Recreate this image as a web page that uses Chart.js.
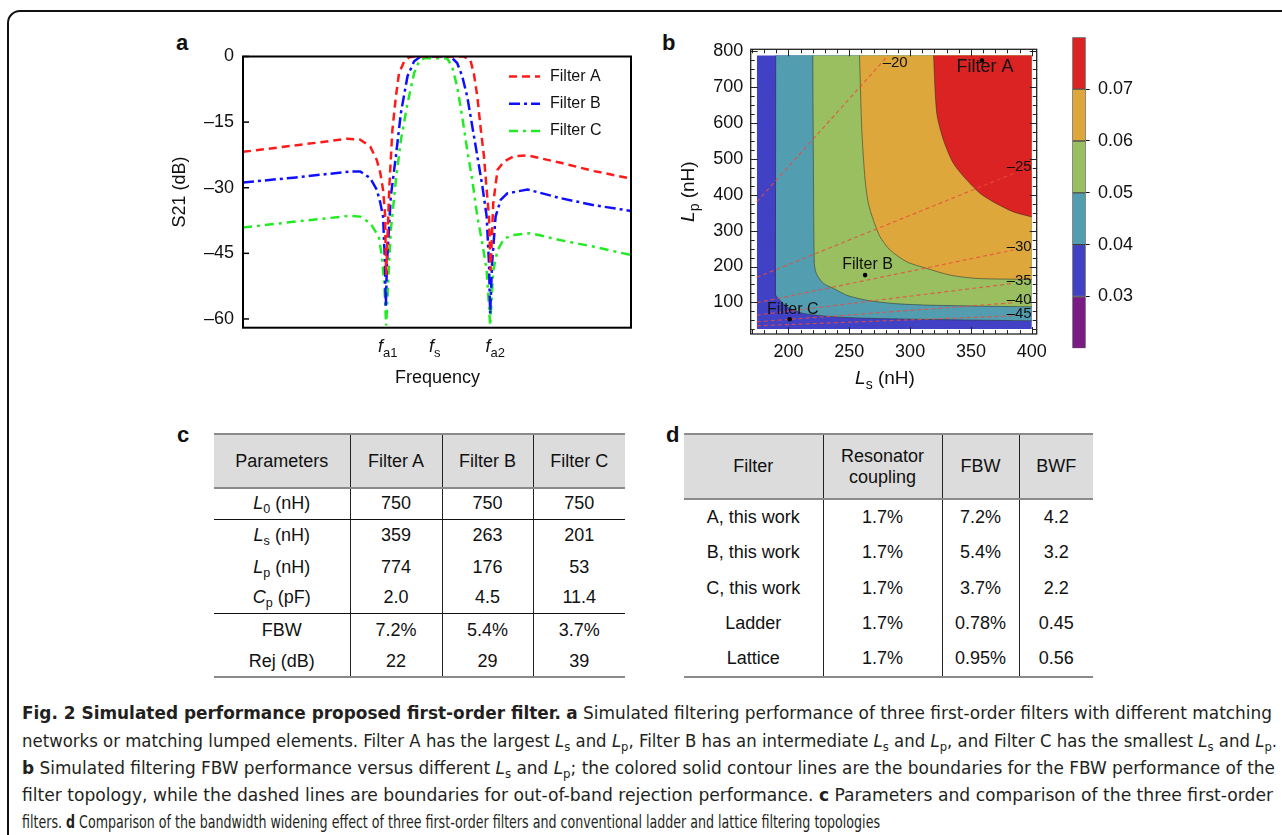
<!DOCTYPE html>
<html>
<head>
<meta charset="utf-8">
<script src="https://cdn.jsdelivr.net/npm/chart.js@4.4.0/dist/chart.umd.min.js"></script>
<style>
body { margin: 0; width: 1282px; height: 835px; overflow: hidden; background: #fff; position: relative; font-family: "Liberation Sans", Arial, sans-serif; color: #111; }
.outer { position: absolute; left: 7px; top: 10px; width: 1320px; height: 880px; border: 2px solid #111; border-radius: 13px; }
.pl { position: absolute; font-weight: bold; font-size: 22px; line-height: 26px; }
canvas { position: absolute; }
table.t { position: absolute; border-collapse: collapse; table-layout: fixed; font-size: 18px; color: #111; }
table.t td { text-align: center; vertical-align: middle; padding: 0; border-left: 1px solid #222; line-height: 21px; white-space: nowrap; }
table.t td:first-child { border-left: none; }
table.t tr.hd td { background: #dcdcdc; border-top: 2.5px solid #8a8a8a; border-bottom: 2.5px solid #8a8a8a; }
table.t tr.sep td { border-bottom: 1.3px solid #111; }
table.t tr.last td { border-bottom: 2.5px solid #8a8a8a; }
table.t sub, .cap sub { font-size: 0.7em; vertical-align: -0.3em; line-height: 0; }
.cap { position: absolute; left: 22px; white-space: nowrap; transform-origin: 0 0; font-family: "DejaVu Sans Condensed", "Open Sans", "Liberation Sans", sans-serif; font-stretch: condensed; font-size: 18.5px; line-height: 27px; color: #231f20; }
</style>
</head>
<body>
<div class="outer"></div>

<div class="pl" style="left:176px;top:30px">a</div>
<div class="pl" style="left:662px;top:30px">b</div>
<div class="pl" style="left:177px;top:422px">c</div>
<div class="pl" style="left:666px;top:422px">d</div>

<canvas id="chartA" width="495" height="360" style="left:150px;top:40px"></canvas>
<canvas id="chartB" width="380" height="370" style="left:670px;top:30px"></canvas>
<canvas id="chartBar" width="100" height="340" style="left:1060px;top:25px"></canvas>

<table class="t" style="left:214px;top:433px;width:411px">
  <colgroup><col style="width:136px"><col style="width:92px"><col style="width:91px"><col style="width:92px"></colgroup>
  <tr class="hd" style="height:54px"><td>Parameters</td><td>Filter A</td><td>Filter B</td><td>Filter C</td></tr>
  <tr class="sep" style="height:31px"><td><i>L</i><sub>0</sub> (nH)</td><td>750</td><td>750</td><td>750</td></tr>
  <tr style="height:32px"><td><i>L</i><sub>s</sub> (nH)</td><td>359</td><td>263</td><td>201</td></tr>
  <tr style="height:32px"><td><i>L</i><sub>p</sub> (nH)</td><td>774</td><td>176</td><td>53</td></tr>
  <tr class="sep" style="height:30px"><td><i>C</i><sub>p</sub> (pF)</td><td>2.0</td><td>4.5</td><td>11.4</td></tr>
  <tr style="height:34px"><td>FBW</td><td>7.2%</td><td>5.4%</td><td>3.7%</td></tr>
  <tr class="last" style="height:30px"><td>Rej (dB)</td><td>22</td><td>29</td><td>39</td></tr>
</table>

<table class="t" style="left:684px;top:433px;width:409px">
  <colgroup><col style="width:139px"><col style="width:119px"><col style="width:77px"><col style="width:74px"></colgroup>
  <tr class="hd" style="height:65px"><td>Filter</td><td>Resonator<br>coupling</td><td>FBW</td><td>BWF</td></tr>
  <tr style="height:36px"><td>A, this work</td><td>1.7%</td><td>7.2%</td><td>4.2</td></tr>
  <tr style="height:35px"><td>B, this work</td><td>1.7%</td><td>5.4%</td><td>3.2</td></tr>
  <tr style="height:36px"><td>C, this work</td><td>1.7%</td><td>3.7%</td><td>2.2</td></tr>
  <tr style="height:35px"><td>Ladder</td><td>1.7%</td><td>0.78%</td><td>0.45</td></tr>
  <tr class="last" style="height:36px"><td>Lattice</td><td>1.7%</td><td>0.95%</td><td>0.56</td></tr>
</table>

<div class="cap" data-w="1250" style="top:699px"><b>Fig. 2 Simulated performance proposed first-order filter.</b> <b>a</b> Simulated filtering performance of three first-order filters with different matching</div>
<div class="cap" data-w="1255" style="top:727px">networks or matching lumped elements. Filter A has the largest <i>L</i><sub>s</sub> and <i>L</i><sub>p</sub>, Filter B has an intermediate <i>L</i><sub>s</sub> and <i>L</i><sub>p</sub>, and Filter C has the smallest <i>L</i><sub>s</sub> and <i>L</i><sub>p</sub>.</div>
<div class="cap" data-w="1253" style="top:754px"><b>b</b> Simulated filtering FBW performance versus different <i>L</i><sub>s</sub> and <i>L</i><sub>p</sub>; the colored solid contour lines are the boundaries for the FBW performance of the</div>
<div class="cap" data-w="1251" style="top:781px">filter topology, while the dashed lines are boundaries for out-of-band rejection performance. <b>c</b> Parameters and comparison of the three first-order</div>
<div class="cap" data-w="858" style="top:808px">filters. <b>d</b> Comparison of the bandwidth widening effect of three first-order filters and conventional ladder and lattice filtering topologies</div>

<script>
// ---------- panel a: S21 vs frequency ----------
const seriesNames = ['Filter A', 'Filter B', 'Filter C'];
const freqTickVals = [37.3, 49.4, 65.0];
const freqTickSubs = ['a1', 's', 'a2'];
const s21Ticks = [0, -15, -30, -45, -60];

const freqA = [0, 10, 20, 26.8, 30.2, 32.8, 34.5, 35.4, 36.1, 36.6, 36.9, 37.3, 37.7, 38.5, 39.4, 40.2, 41.5, 42.8, 44.1, 50, 56.9, 58.6, 59.5, 60.4, 61.2, 62.1, 62.8, 63.4, 63.8, 64.5, 65.6, 67.3, 69.8, 73.3, 81.9, 90.5, 100];
const s21A  = [-21.8, -20.7, -19.6, -18.8, -19, -20.6, -23.7, -26.7, -30.5, -36, -50, -40, -30, -16.8, -9.2, -3.9, -1.2, -0.2, 0, 0, 0, -0.8, -3.9, -9.2, -16, -22.8, -30.5, -36.6, -49, -33.5, -25.9, -24, -22.8, -22.6, -24.3, -26.2, -27.9];

const freqB = [0, 13, 27.7, 30.2, 32.8, 34.5, 35.4, 36.1, 36.6, 36.8, 37.1, 38.1, 39.4, 40.7, 42.4, 44.1, 45.8, 50, 53.5, 55.2, 56.5, 57.8, 59.1, 60.4, 61.7, 62.8, 63.4, 63.7, 64.2, 65.1, 66.4, 68.1, 73.3, 81.9, 90.5, 100];
const s21B  = [-28.8, -27.7, -26.3, -26.3, -27.8, -30.5, -33.5, -36.6, -47.3, -57.2, -47.3, -32, -22.8, -12.9, -4.5, -1.1, 0, 0, 0, -1.5, -4.5, -9.2, -16, -22.8, -29.7, -36.6, -47.3, -58.8, -47.3, -36.6, -32.8, -31.3, -30.4, -32.4, -34, -35.3];

const freqC = [0, 13, 27.7, 30.2, 32.8, 35, 35.8, 36.4, 36.9, 37.4, 38.1, 39.4, 40.7, 42.4, 44.1, 45.4, 46.7, 50, 52.6, 53.9, 55.2, 56.5, 57.8, 59.1, 60.4, 61.7, 62.8, 63.7, 64.5, 65.6, 67.3, 69.8, 74.1, 81.9, 90.5, 100];
const s21C  = [-39.1, -37.8, -36.4, -36.6, -38.1, -41.2, -45.8, -51.9, -61.5, -51.9, -39.7, -28.3, -19.1, -10.7, -3.8, -1.1, -0.4, -0.4, -0.4, -2.3, -6.9, -13.8, -21.4, -28.3, -36.6, -42.8, -48.9, -61.5, -48.9, -44.3, -41.6, -40.8, -40.4, -42, -43.5, -45.4];

// ---------- panel b: FBW contour map ----------
const lsTicks = [200, 250, 300, 350, 400];
const lpTicks = [100, 200, 300, 400, 500, 600, 700, 800];
const lpTop = 788;

const bgLs = [174, 400];
const bgLp = [25.6, 25.6];
const c004Ls = [189.6, 189.4, 189.2, 189.6, 191.8, 198.7, 212.3, 245.2, 313.7, 400];
const c004Lp = [788, 400, 134, 120, 111, 87.7, 69.4, 58.2, 52.6, 48.8];
const c005Ls = [220, 220.5, 221.3, 223, 228.8, 237, 248, 260, 272.6, 290, 313.7, 350, 400];
const c005Lp = [788, 500, 208.6, 180, 152.9, 139, 120, 109, 101.7, 96, 92.5, 90, 87.7];
const c006Ls = [258.4, 260.3, 263, 265.7, 269.8, 275.3, 283.6, 297.3, 313.7, 332.9, 354.8, 400];
const c006Lp = [788, 580, 440.7, 375.8, 329, 282.7, 245.7, 213, 194.7, 176, 166.8, 164];
const c007Ls = [319.2, 321.9, 327.4, 335.6, 346.6, 357.5, 368.4, 384.9, 400];
const c007Lp = [788, 626.5, 552, 487, 440.7, 403.6, 380, 352, 338];

// rejection contours (dashed), start and end points
const rejLabels = ['–20', '–25', '–30', '–35', '–40', '–45'];
const rejLs = [[174, 282], [174, 385], [174, 385], [174, 385], [174, 385], [174, 385]];
const rejLp = [[380, 788], [169.6, 459], [99, 246], [64.6, 153], [46, 99], [34.8, 62.7]];
const rejLabelLs = [287.7, 389.6, 389.6, 389.6, 389.6, 389.6];
const rejLabelLp = [768.5, 477.7, 254.9, 160, 108, 67.4];

const filterLs = [359, 263, 201];
const filterLp = [774, 176, 53];
const filterLabelLs = [361.6, 265, 203.6];
const filterLabelLp = [756, 204, 80.5];

// ---------- colour bar ----------
const fbwLevels = [0.02, 0.03, 0.04, 0.05, 0.06, 0.07, 0.08];
const fbwTicks = [0.03, 0.04, 0.05, 0.06, 0.07];
const fbwColors = ['#7a1b86', '#4141c6', '#539db1', '#99bf61', '#dea73c', '#db2323'];

const FONT = '"Liberation Sans", Arial, sans-serif';
const pts = (xs, ys) => xs.map((x, i) => ({ x: x, y: ys[i] }));

// keep chart areas exactly where the figure has them
function noLabelPad(s) {
    s.paddingTop = 0; s.paddingBottom = 0; s.paddingLeft = 0; s.paddingRight = 0;
}

function drawRich(ctx, parts, x, y, size) {
    const fontFor = p => (p.italic ? 'italic ' : '') + (p.sub ? Math.round(size * 0.72) : size) + 'px ' + FONT;
    const widths = parts.map(p => { ctx.font = fontFor(p); return ctx.measureText(p.t).width; });
    let cx = x - widths.reduce((a, b) => a + b, 0) / 2;
    ctx.textAlign = 'left';
    ctx.textBaseline = 'alphabetic';
    parts.forEach((p, i) => {
        ctx.font = fontFor(p);
        ctx.fillText(p.t, cx, y + (p.sub ? size * 0.28 : 0));
        cx += widths[i];
    });
}

const lineStyles = [
    { color: 'rgb(255,25,25)', dash: [8, 5] },
    { color: 'rgb(15,15,255)', dash: [11, 4, 3, 4] },
    { color: 'rgb(35,235,35)', dash: [9, 5, 3, 5] }
];

const panelAOverlay = {
    id: 'panelAOverlay',
    afterDraw(chart) {
        const { ctx, chartArea: ca, scales } = chart;
        ctx.save();
        ctx.strokeStyle = '#000';
        ctx.lineWidth = 2;
        ctx.strokeRect(ca.left, ca.top, ca.right - ca.left, ca.bottom - ca.top);
        ctx.lineWidth = 1.5;
        s21Ticks.forEach(v => {
            const y = scales.y.getPixelForValue(v);
            ctx.beginPath(); ctx.moveTo(ca.left, y); ctx.lineTo(ca.left + 6, y); ctx.stroke();
        });
        ctx.fillStyle = '#111';
        freqTickVals.forEach((v, i) => {
            drawRich(ctx, [{ t: 'f', italic: true }, { t: freqTickSubs[i], sub: true }], scales.x.getPixelForValue(v), ca.bottom + 24, 18);
        });
        drawRich(ctx, [{ t: 'Frequency' }], (ca.left + ca.right) / 2 + 0.5, ca.bottom + 55, 18);
        ctx.save();
        ctx.translate(30.5, (ca.top + ca.bottom) / 2);
        ctx.rotate(-Math.PI / 2);
        ctx.font = '18px ' + FONT;
        ctx.textAlign = 'center';
        ctx.textBaseline = 'middle';
        ctx.fillText('S21 (dB)', 0, 0);
        ctx.restore();
        // legend
        seriesNames.forEach((name, i) => {
            const y = ca.top + 20 + i * 27.2;
            ctx.strokeStyle = lineStyles[i].color;
            ctx.lineWidth = 2.5;
            ctx.setLineDash(lineStyles[i].dash);
            ctx.beginPath(); ctx.moveTo(ca.right - 122, y); ctx.lineTo(ca.right - 91, y); ctx.stroke();
            ctx.setLineDash([]);
            ctx.fillStyle = '#111';
            ctx.font = '16px ' + FONT;
            ctx.textAlign = 'left';
            ctx.textBaseline = 'middle';
            ctx.fillText(name, ca.right - 81, y);
        });
        ctx.restore();
    }
};

new Chart(document.getElementById('chartA'), {
    type: 'scatter',
    data: {
        datasets: [[freqA, s21A], [freqB, s21B], [freqC, s21C]].map((d, i) => ({
            label: seriesNames[i],
            data: pts(d[0], d[1]),
            showLine: true,
            borderColor: lineStyles[i].color,
            borderDash: lineStyles[i].dash,
            borderWidth: 2.5,
            pointRadius: 0,
            tension: 0,
            fill: false
        }))
    },
    options: {
        responsive: false,
        animation: false,
        devicePixelRatio: 1,
        layout: { padding: { left: 0, right: 14, top: 16.5, bottom: 72.3 } },
        plugins: { legend: { display: false }, tooltip: { enabled: false } },
        scales: {
            x: { type: 'linear', min: 0, max: 100, display: false },
            y: {
                min: -62, max: 0,
                afterBuildTicks: s => { s.ticks = s21Ticks.map(v => ({ value: v })); },
                afterFit: s => { s.width = 93; noLabelPad(s); },
                grid: { display: false, drawTicks: false },
                border: { display: false },
                ticks: {
                    padding: 9, color: '#111', font: { size: 18, family: FONT },
                    callback: v => v < 0 ? '–' + Math.abs(v) : String(v)
                }
            }
        }
    },
    plugins: [panelAOverlay]
});

const panelBOverlay = {
    id: 'panelBOverlay',
    afterDraw(chart) {
        const { ctx, chartArea: ca, scales } = chart;
        const sx = scales.x, sy = scales.y;
        ctx.save();
        ctx.fillStyle = '#111';
        // dashed rejection contour labels
        ctx.font = '15px ' + FONT;
        ctx.textAlign = 'center';
        ctx.textBaseline = 'middle';
        rejLabels.forEach((t, i) => ctx.fillText(t, sx.getPixelForValue(rejLabelLs[i]), sy.getPixelForValue(rejLabelLp[i])));
        // filter labels
        seriesNames.forEach((t, i) => {
            ctx.font = (i === 0 ? 18 : 16) + 'px ' + FONT;
            ctx.fillText(t, sx.getPixelForValue(filterLabelLs[i]), sy.getPixelForValue(filterLabelLp[i]));
        });
        // frame with inward ticks
        ctx.strokeStyle = '#222';
        ctx.lineWidth = 1.3;
        ctx.strokeRect(ca.left, ca.top, ca.right - ca.left, ca.bottom - ca.top);
        ctx.lineWidth = 1;
        for (let v = 170; v <= 400; v += 10) {
            const x = Math.round(sx.getPixelForValue(v)) + 0.5;
            const len = v % 50 === 0 ? 7 : 4;
            ctx.beginPath();
            ctx.moveTo(x, ca.bottom); ctx.lineTo(x, ca.bottom - len);
            ctx.moveTo(x, ca.top); ctx.lineTo(x, ca.top + len);
            ctx.stroke();
        }
        for (let v = 25; v <= 800; v += 25) {
            const y = Math.round(sy.getPixelForValue(v)) + 0.5;
            const len = v % 100 === 0 ? 7 : 4;
            ctx.beginPath();
            ctx.moveTo(ca.left, y); ctx.lineTo(ca.left + len, y);
            ctx.moveTo(ca.right, y); ctx.lineTo(ca.right - len, y);
            ctx.stroke();
        }
        // axis titles
        drawRich(ctx, [{ t: 'L', italic: true }, { t: 's', sub: true }, { t: ' (nH)' }], 215, 354, 19);
        ctx.save();
        ctx.translate(23.5, (ca.top + ca.bottom) / 2);
        ctx.rotate(-Math.PI / 2);
        drawRich(ctx, [{ t: 'L', italic: true }, { t: 'p', sub: true }, { t: ' (nH)' }], 0, 0, 19);
        ctx.restore();
        ctx.restore();
    }
};

const contour = (ls, lp, color, order, edge) => ({
    data: pts(ls, lp),
    showLine: true,
    pointRadius: 0,
    tension: 0.25,
    backgroundColor: color,
    borderColor: edge ? 'rgba(45,45,45,0.6)' : 'rgba(0,0,0,0)',
    borderWidth: edge ? 0.9 : 0,
    fill: { value: lpTop },
    order: order
});

const rejSets = rejLabels.map((t, i) => ({
    data: pts(rejLs[i], rejLp[i]),
    showLine: true,
    pointRadius: 0,
    borderColor: 'rgba(235,75,60,0.8)',
    borderWidth: 1.2,
    borderDash: [4, 3],
    fill: false,
    order: 1
}));

new Chart(document.getElementById('chartB'), {
    type: 'scatter',
    data: {
        datasets: [
            { data: pts(filterLs, filterLp), pointRadius: 2.3, pointBackgroundColor: '#000', pointBorderWidth: 0, order: 0 },
            ...rejSets,
            contour(c007Ls, c007Lp, fbwColors[5], 2, true),
            contour(c006Ls, c006Lp, fbwColors[4], 3, true),
            contour(c005Ls, c005Lp, fbwColors[3], 4, true),
            contour(c004Ls, c004Lp, fbwColors[2], 5, true),
            contour(bgLs, bgLp, fbwColors[1], 6, false)
        ]
    },
    options: {
        responsive: false,
        animation: false,
        devicePixelRatio: 1,
        layout: { padding: { left: 0, right: 13.3, top: 19.3, bottom: 0 } },
        plugins: { legend: { display: false }, tooltip: { enabled: false } },
        scales: {
            x: {
                type: 'linear', min: 169, max: 404,
                afterBuildTicks: s => { s.ticks = lsTicks.map(v => ({ value: v })); },
                afterFit: s => { s.height = 66; noLabelPad(s); },
                grid: { display: false, drawTicks: false },
                border: { display: false },
                ticks: { padding: 7, color: '#111', font: { size: 18, family: FONT }, maxRotation: 0 }
            },
            y: {
                min: 12, max: 805,
                afterBuildTicks: s => { s.ticks = lpTicks.map(v => ({ value: v })); },
                afterFit: s => { s.width = 80.7; noLabelPad(s); },
                grid: { display: false, drawTicks: false },
                border: { display: false },
                ticks: { padding: 7.4, color: '#111', font: { size: 18, family: FONT } }
            }
        }
    },
    plugins: [panelBOverlay]
});

new Chart(document.getElementById('chartBar'), {
    type: 'bar',
    data: {
        labels: ['FBW'],
        datasets: fbwColors.map((c, i) => ({
            data: [[fbwLevels[i], fbwLevels[i + 1]]],
            backgroundColor: c,
            borderColor: 'rgba(30,30,30,0.75)',
            borderWidth: 1,
            borderSkipped: false,
            grouped: false,
            barPercentage: 1,
            categoryPercentage: 1
        }))
    },
    options: {
        responsive: false,
        animation: false,
        devicePixelRatio: 1,
        layout: { padding: { left: 12.3, right: 0, top: 12.3, bottom: 16.7 } },
        plugins: { legend: { display: false }, tooltip: { enabled: false } },
        scales: {
            x: { display: false },
            y: {
                position: 'right', min: 0.02, max: 0.08,
                afterBuildTicks: s => { s.ticks = fbwTicks.map(v => ({ value: v })); },
                afterFit: s => { s.width = 74.3; noLabelPad(s); },
                grid: { drawOnChartArea: false, drawTicks: true, tickLength: 4, color: '#111' },
                border: { display: false },
                ticks: { padding: 8.3, color: '#111', font: { size: 18, family: FONT }, callback: v => v.toFixed(2) }
            }
        }
    }
});

// fit each caption line to its measured width in the figure
document.querySelectorAll('.cap').forEach(el => {
    const w = el.getBoundingClientRect().width;
    el.style.transform = 'scaleX(' + (parseFloat(el.dataset.w) / w) + ')';
});
</script>
</body>
</html>
